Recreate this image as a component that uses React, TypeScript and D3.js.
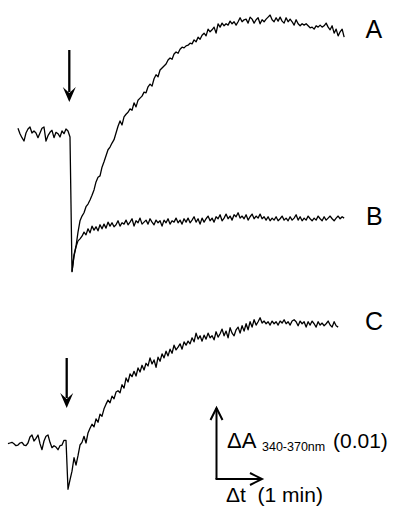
import React from "react";
import * as d3 from "d3";

const SAMPLE_INTERVAL_S = 2.61;
const TRACE_A_START_S = -26 * SAMPLE_INTERVAL_S;
const TRACE_B_START_S = 1 * SAMPLE_INTERVAL_S;
const TRACE_C_START_S = -29 * SAMPLE_INTERVAL_S;

const traceA: number[] = [
  0.7, -0.1, -0.7, -1.2, 0.0, 0.6, 0.9, 0.0, 0.3, 0.0, -0.7, 0.0, 0.7, 0.9, -1.2, -0.4, 0.1, 0.4, -0.7, 0.1,
  -0.1, -0.6, 0.3, -0.1, 0.6, 0.3, -0.6,
  -20.7, -18.2, -16.9, -14.8, -13.1, -12.4, -11.9, -11.0, -10.6, -10.0, -9.3, -8.5, -7.3, -6.6, -6.4, -5.1,
  -4.3, -3.4, -2.5, -2.1, -1.5, -1.0, 0.0, 1.0, 1.8, 1.2, 2.4, 2.8, 3.1, 3.6, 3.4, 4.5, 3.9, 4.9, 5.2, 5.5,
  6.1, 6.0, 6.9, 7.3, 7.0, 8.1, 8.7, 8.4, 9.4, 9.7, 10.0, 10.3, 10.9, 11.2, 11.0, 11.8, 12.1, 11.9, 12.5,
  12.8, 12.7, 13.0, 13.1, 13.4, 13.3, 13.9, 13.6, 14.3, 14.0, 14.6, 14.9, 14.5, 15.5, 15.1, 15.4, 15.8, 14.9,
  16.3, 15.8, 16.4, 16.0, 16.3, 16.1, 16.7, 16.3, 16.6, 16.1, 16.6, 17.2, 16.6, 16.9, 17.0, 16.4, 17.3, 17.0,
  16.4, 16.9, 17.2, 16.3, 16.9, 16.6, 17.0, 17.3, 17.6, 16.9, 16.6, 17.2, 16.7, 17.3, 16.7, 16.4, 17.2, 16.6,
  17.0, 16.6, 16.1, 16.9, 16.3, 16.0, 16.3, 16.1, 16.3, 16.0, 15.7, 15.8, 15.5, 16.0, 15.8, 16.1, 15.8, 16.0,
  16.4, 15.8, 15.4, 16.0, 14.9, 15.5, 14.5, 15.1, 15.5, 14.3,
];

const traceB: number[] = [
  -20.7, -18.4, -17.0, -16.1, -15.8, -15.4, -14.8, -15.2, -14.3, -14.9, -13.9, -14.5, -14.0, -14.6, -13.7,
  -14.3, -13.6, -14.2, -13.3, -13.9, -13.4, -14.0, -13.7, -13.1, -13.9, -13.4, -13.6, -13.0, -13.7, -13.3,
  -12.8, -13.9, -13.1, -13.4, -12.7, -13.6, -13.3, -13.0, -13.6, -12.8, -13.3, -13.7, -13.0, -13.4, -13.1,
  -13.9, -13.0, -13.4, -12.8, -13.6, -13.1, -13.3, -12.7, -13.4, -13.0, -13.6, -12.8, -13.3, -12.7, -13.4,
  -13.0, -12.5, -13.3, -12.8, -13.6, -12.7, -13.3, -12.8, -12.4, -13.1, -12.7, -13.3, -12.5, -12.8, -12.2,
  -13.1, -12.7, -12.1, -12.8, -12.4, -13.0, -12.2, -12.5, -11.9, -12.7, -12.4, -12.8, -12.2, -13.0, -12.5,
  -12.1, -12.8, -12.4, -12.7, -12.1, -12.8, -12.5, -13.0, -12.5, -13.1, -12.7, -13.0, -12.5, -13.1, -12.8,
  -12.4, -13.0, -12.7, -13.1, -12.5, -13.0, -12.7, -12.2, -13.0, -12.5, -13.1, -12.7, -13.0, -12.4, -12.8,
  -13.1, -12.7, -13.0, -12.4, -12.8, -13.1, -12.5, -13.0, -12.7, -12.4, -12.8, -13.1, -12.7, -12.4, -12.8,
  -12.5, -12.7,
];

const traceC: number[] = [
  -0.1, 0.0, 0.1, -0.1, -0.4, -0.3, 0.0, 0.1, -0.3, -0.4, 0.0, 0.9, 1.2, 0.3, 0.7, 1.2, -0.1, -1.0, 0.3, 1.0,
  1.2, 0.1, -0.7, -0.4, -0.6, -1.0, -0.4, -0.3, 0.4, 0.4,
  -6.9, -5.5, -4.2, -2.2, -3.3, -1.9, -0.3, 0.1, 1.0, 0.0, 1.5, 2.2, 2.8, 2.4, 3.6, 3.1, 4.3, 4.0, 5.1, 5.8,
  6.4, 6.0, 7.0, 6.6, 7.6, 7.8, 7.5, 8.7, 8.2, 9.7, 9.1, 10.3, 9.9, 10.7, 10.0, 11.2, 10.6, 11.6, 10.9, 11.9,
  11.5, 12.7, 11.8, 12.4, 11.3, 12.8, 12.2, 13.3, 12.7, 13.7, 13.0, 14.0, 13.4, 14.6, 13.9, 14.3, 14.8, 14.0,
  15.1, 14.6, 15.2, 14.8, 15.7, 15.1, 16.4, 15.5, 16.0, 15.2, 16.1, 15.5, 16.4, 15.7, 16.0, 15.4, 16.6, 15.8,
  16.3, 17.0, 16.0, 16.7, 15.7, 17.2, 16.4, 16.0, 16.9, 17.3, 16.4, 17.5, 16.7, 17.8, 16.9, 18.1, 17.3, 18.4,
  17.6, 18.1, 18.7, 17.9, 18.2, 17.8, 18.1, 17.6, 18.2, 17.8, 18.1, 17.6, 18.2, 17.9, 18.4, 17.8, 18.1, 17.6,
  18.2, 18.4, 18.1, 17.5, 18.2, 17.8, 18.1, 17.3, 18.1, 17.6, 18.2, 17.8, 17.3, 18.1, 17.6, 17.9, 17.5, 17.8,
  18.2, 17.6, 17.3, 18.1, 17.5, 17.3,
];

const traceLabels = ["A", "B", "C"];
const yScaleBarLabel = "ΔA";
const yScaleBarSub = "340-370nm";
const yScaleBarValue = "(0.01)";
const xScaleBarLabel = "Δt  (1 min)";

type Pt = [number, number];
const toPoints = (vals: number[], start: number): Pt[] =>
  vals.map((v, i) => [start + i * SAMPLE_INTERVAL_S, v]);

const FONT = "'Liberation Sans', Arial, Helvetica, sans-serif";

export default function App() {
  const W = 400;
  const H = 515;

  // top panel (A, B): seconds relative to addition, ΔA in mAU
  const xTop = d3.scaleLinear().domain([0, 60]).range([70, 116]);
  const yTop = d3.scaleLinear().domain([0, 10]).range([133, 66]);
  // bottom panel (C)
  const xBot = d3.scaleLinear().domain([0, 60]).range([66, 112]);
  const yBot = d3.scaleLinear().domain([0, 10]).range([443, 376]);

  const lineTop = d3
    .line<Pt>()
    .x((d) => xTop(d[0]))
    .y((d) => yTop(d[1]));
  const lineBot = d3
    .line<Pt>()
    .x((d) => xBot(d[0]))
    .y((d) => yBot(d[1]));

  const pA = toPoints(traceA, TRACE_A_START_S);
  const pB = toPoints(traceB, TRACE_B_START_S);
  const pC = toPoints(traceC, TRACE_C_START_S);

  const arrowDown = (x: number, y1: number, y2: number) => (
    <g>
      <line x1={x} x2={x} y1={y1} y2={y2 - 10} stroke="#000" strokeWidth={2.3} />
      <path d={`M${x - 6.5},${y2 - 15} L${x},${y2} L${x + 6.5},${y2 - 15} L${x},${y2 - 9} Z`} fill="#000" />
    </g>
  );

  const sbX = 216.5;
  const sbY = 479;
  const sbTop = 408;
  const sbRight = 262;

  return (
    <svg
      width={W}
      height={H}
      viewBox={`0 0 ${W} ${H}`}
      style={{ position: "absolute", left: 0, top: 0, background: "#fff" }}
    >
      <rect x={0} y={0} width={W} height={H} fill="#fff" />
      <path d={lineTop(pA) ?? ""} fill="none" stroke="#000" strokeWidth={1.3} strokeLinejoin="round" />
      <path d={lineTop(pB) ?? ""} fill="none" stroke="#000" strokeWidth={1.3} strokeLinejoin="round" />
      <path d={lineBot(pC) ?? ""} fill="none" stroke="#000" strokeWidth={1.3} strokeLinejoin="round" />

      {arrowDown(xTop(0) - 0.7, 50, 102)}
      {arrowDown(xBot(0) + 0.7, 358, 408)}

      <g fontFamily={FONT} fill="#000">
        <text x={365.5} y={38} fontSize={25}>{traceLabels[0]}</text>
        <text x={366} y={225} fontSize={25}>{traceLabels[1]}</text>
        <text x={365} y={330} fontSize={25}>{traceLabels[2]}</text>
      </g>

      {/* scale bar */}
      <g stroke="#000" strokeWidth={2} fill="none">
        <line x1={sbX} y1={sbY} x2={sbX} y2={sbTop} />
        <line x1={sbX - 1} y1={sbY} x2={sbRight} y2={sbY} />
        <path d={`M${sbX - 6},${sbTop + 12} L${sbX},${sbTop} L${sbX + 6},${sbTop + 12}`} />
        <path d={`M${sbRight - 12},${sbY - 6} L${sbRight},${sbY} L${sbRight - 12},${sbY + 6}`} />
      </g>
      <g fontFamily={FONT} fill="#000">
        <text x={227} y={448} fontSize={22}>{yScaleBarLabel}</text>
        <text x={262} y={451} fontSize={12.5}>{yScaleBarSub}</text>
        <text x={333} y={448} fontSize={21}>{yScaleBarValue}</text>
        <text x={226} y={502} fontSize={21} style={{ whiteSpace: "pre" }}>{xScaleBarLabel}</text>
      </g>
    </svg>
  );
}
